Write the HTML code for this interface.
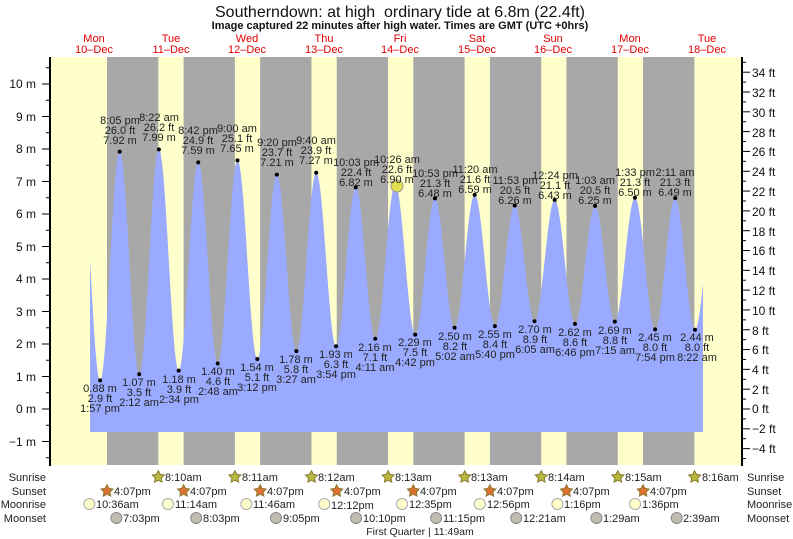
<!DOCTYPE html>
<html><head><meta charset="utf-8"><style>
body{margin:0;background:#fff;}
svg{display:block;font-family:"Liberation Sans",sans-serif;}
.t{font-size:11px;fill:#222;text-anchor:middle}
.ax{font-size:12px;fill:#111}
.r{font-size:11px;fill:#222}
</style></head><body>
<svg id="s" width="793" height="539" viewBox="0 0 793 539">
<rect x="50" y="57" width="692" height="408" fill="#ffffcc"/>
<g id="bands"></g>
<path id="water" fill="#9aabff"/>
<g id="ticks" stroke="#000" stroke-width="1"></g>
<line x1="50" y1="57" x2="50" y2="466" stroke="#000" stroke-width="2"/>
<line x1="742" y1="57" x2="742" y2="466" stroke="#000" stroke-width="2"/>
<text x="400" y="17" text-anchor="middle" font-size="16" fill="#111">Southerndown: at high&#160; ordinary tide at 6.8m (22.4ft)</text>
<text x="400" y="29" text-anchor="middle" font-size="11" font-weight="bold" fill="#111">Image captured 22 minutes after high water. Times are GMT (UTC +0hrs)</text>
<g font-size="11" fill="#e00000" text-anchor="middle">
<text x="94" y="42">Mon</text><text x="94" y="53">10‒Dec</text>
<text x="171" y="42">Tue</text><text x="171" y="53">11‒Dec</text>
<text x="247" y="42">Wed</text><text x="247" y="53">12‒Dec</text>
<text x="324" y="42">Thu</text><text x="324" y="53">13‒Dec</text>
<text x="400" y="42">Fri</text><text x="400" y="53">14‒Dec</text>
<text x="477" y="42">Sat</text><text x="477" y="53">15‒Dec</text>
<text x="553" y="42">Sun</text><text x="553" y="53">16‒Dec</text>
<text x="630" y="42">Mon</text><text x="630" y="53">17‒Dec</text>
<text x="707" y="42">Tue</text><text x="707" y="53">18‒Dec</text>
</g>
<g class="ax" text-anchor="end">
<text x="36" y="88">10 m</text><text x="36" y="121">9 m</text><text x="36" y="153">8 m</text><text x="36" y="186">7 m</text><text x="36" y="218">6 m</text><text x="36" y="251">5 m</text><text x="36" y="283">4 m</text><text x="36" y="316">3 m</text><text x="36" y="348">2 m</text><text x="36" y="381">1 m</text><text x="36" y="413">0 m</text><text x="36" y="446">−1 m</text>
</g>
<g class="ax">
<text x="752" y="77">34 ft</text><text x="752" y="97">32 ft</text><text x="752" y="117">30 ft</text><text x="752" y="137">28 ft</text><text x="752" y="156">26 ft</text><text x="752" y="176">24 ft</text><text x="752" y="196">22 ft</text><text x="752" y="216">20 ft</text><text x="752" y="236">18 ft</text><text x="752" y="255">16 ft</text><text x="752" y="275">14 ft</text><text x="752" y="295">12 ft</text><text x="752" y="315">10 ft</text><text x="752" y="335">8 ft</text><text x="752" y="354">6 ft</text><text x="752" y="374">4 ft</text><text x="752" y="394">2 ft</text><text x="752" y="413">0 ft</text><text x="752" y="433">−2 ft</text><text x="752" y="453">−4 ft</text>
</g>
<g id="dots" fill="#000"></g>
<circle cx="397" cy="186" r="6" fill="#e0e050" stroke="#999" stroke-width="1"/>
<g class="t">
<text x="120" y="124">8:05 pm</text><text x="120" y="134">26.0 ft</text><text x="120" y="144">7.92 m</text>
<text x="159" y="121">8:22 am</text><text x="159" y="131">26.2 ft</text><text x="159" y="141">7.99 m</text>
<text x="198" y="134">8:42 pm</text><text x="198" y="144">24.9 ft</text><text x="198" y="154">7.59 m</text>
<text x="237" y="132">9:00 am</text><text x="237" y="142">25.1 ft</text><text x="237" y="152">7.65 m</text>
<text x="277" y="146">9:20 pm</text><text x="277" y="156">23.7 ft</text><text x="277" y="166">7.21 m</text>
<text x="316" y="144">9:40 am</text><text x="316" y="154">23.9 ft</text><text x="316" y="164">7.27 m</text>
<text x="356" y="166">10:03 pm</text><text x="356" y="176">22.4 ft</text><text x="356" y="186">6.82 m</text>
<text x="397" y="163">10:26 am</text><text x="397" y="173">22.6 ft</text><text x="397" y="183">6.90 m</text>
<text x="435" y="177">10:53 pm</text><text x="435" y="187">21.3 ft</text><text x="435" y="197">6.48 m</text>
<text x="475" y="173">11:20 am</text><text x="475" y="183">21.6 ft</text><text x="475" y="193">6.59 m</text>
<text x="515" y="184">11:53 pm</text><text x="515" y="194">20.5 ft</text><text x="515" y="204">6.26 m</text>
<text x="555" y="179">12:24 pm</text><text x="555" y="189">21.1 ft</text><text x="555" y="199">6.43 m</text>
<text x="595" y="184">1:03 am</text><text x="595" y="194">20.5 ft</text><text x="595" y="204">6.25 m</text>
<text x="635" y="176">1:33 pm</text><text x="635" y="186">21.3 ft</text><text x="635" y="196">6.50 m</text>
<text x="675" y="176">2:11 am</text><text x="675" y="186">21.3 ft</text><text x="675" y="196">6.49 m</text>
<text x="100" y="392">0.88 m</text><text x="100" y="402">2.9 ft</text><text x="100" y="412">1:57 pm</text>
<text x="139" y="386">1.07 m</text><text x="139" y="396">3.5 ft</text><text x="139" y="406">2:12 am</text>
<text x="179" y="383">1.18 m</text><text x="179" y="393">3.9 ft</text><text x="179" y="403">2:34 pm</text>
<text x="218" y="375">1.40 m</text><text x="218" y="385">4.6 ft</text><text x="218" y="395">2:48 am</text>
<text x="257" y="371">1.54 m</text><text x="257" y="381">5.1 ft</text><text x="257" y="391">3:12 pm</text>
<text x="296" y="363">1.78 m</text><text x="296" y="373">5.8 ft</text><text x="296" y="383">3:27 am</text>
<text x="336" y="358">1.93 m</text><text x="336" y="368">6.3 ft</text><text x="336" y="378">3:54 pm</text>
<text x="375" y="351">2.16 m</text><text x="375" y="361">7.1 ft</text><text x="375" y="371">4:11 am</text>
<text x="415" y="346">2.29 m</text><text x="415" y="356">7.5 ft</text><text x="415" y="366">4:42 pm</text>
<text x="455" y="340">2.50 m</text><text x="455" y="350">8.2 ft</text><text x="455" y="360">5:02 am</text>
<text x="495" y="338">2.55 m</text><text x="495" y="348">8.4 ft</text><text x="495" y="358">5:40 pm</text>
<text x="535" y="333">2.70 m</text><text x="535" y="343">8.9 ft</text><text x="535" y="353">6:05 am</text>
<text x="575" y="336">2.62 m</text><text x="575" y="346">8.6 ft</text><text x="575" y="356">6:46 pm</text>
<text x="615" y="334">2.69 m</text><text x="615" y="344">8.8 ft</text><text x="615" y="354">7:15 am</text>
<text x="655" y="341">2.45 m</text><text x="655" y="351">8.0 ft</text><text x="655" y="361">7:54 pm</text>
<text x="697" y="341">2.44 m</text><text x="697" y="351">8.0 ft</text><text x="697" y="361">8:22 am</text>
</g>
<g class="r" text-anchor="end">
<text x="46" y="481">Sunrise</text><text x="46" y="495">Sunset</text><text x="46" y="508">Moonrise</text><text x="46" y="522">Moonset</text>
</g>
<g class="r">
<text x="747" y="481">Sunrise</text><text x="747" y="495">Sunset</text><text x="747" y="508">Moonrise</text><text x="747" y="522">Moonset</text>
</g>
<g id="icons"></g>
<g class="r">
<text x="165" y="481">8:10am</text><text x="242" y="481">8:11am</text><text x="318" y="481">8:12am</text><text x="395" y="481">8:13am</text><text x="471" y="481">8:13am</text><text x="548" y="481">8:14am</text><text x="625" y="481">8:15am</text><text x="702" y="481">8:16am</text>
<text x="114" y="495">4:07pm</text><text x="190" y="495">4:07pm</text><text x="267" y="495">4:07pm</text><text x="344" y="495">4:07pm</text><text x="420" y="495">4:07pm</text><text x="497" y="495">4:07pm</text><text x="573" y="495">4:07pm</text><text x="650" y="495">4:07pm</text>
<text x="96" y="508">10:36am</text><text x="175" y="508">11:14am</text><text x="253" y="508">11:46am</text><text x="331" y="509">12:12pm</text><text x="409" y="508">12:35pm</text><text x="487" y="508">12:56pm</text><text x="564" y="508">1:16pm</text><text x="642" y="508">1:36pm</text>
<text x="123" y="522">7:03pm</text><text x="203" y="522">8:03pm</text><text x="283" y="522">9:05pm</text><text x="363" y="522">10:10pm</text><text x="443" y="522">11:15pm</text><text x="523" y="522">12:21am</text><text x="603" y="522">1:29am</text><text x="683" y="522">2:39am</text>
</g>
<text x="420" y="535" text-anchor="middle" font-size="10.5" fill="#222">First Quarter | 11:49am</text>
</svg>
<script>
var NS="http://www.w3.org/2000/svg";
function el(p,n,a){var e=document.createElementNS(NS,n);for(var k in a)e.setAttribute(k,a[k]);document.getElementById(p).appendChild(e);return e;}
function X(t){return 55.6+t*3.191;}
function Y(h){return 409-h*32.5;}
for(var d=0;d<8;d++){var a=107+76.58*d,b=158.3+76.58*d;el("bands","rect",{x:a,y:57,width:b-a,height:408,fill:"#a8a8a8"});}
var ex=[[7.85,7.9],[13.95,.88],[20.08,7.92],[26.2,1.07],[32.37,7.99],[38.57,1.18],[44.7,7.59],[50.8,1.40],[57,7.65],[63.2,1.54],[69.33,7.21],[75.45,1.78],[81.67,7.27],[87.9,1.93],[94.05,6.82],[100.18,2.16],[106.43,6.90],[112.7,2.29],[118.88,6.48],[125.03,2.50],[131.33,6.59],[137.67,2.55],[143.88,6.26],[150.08,2.70],[156.4,6.43],[162.77,2.62],[169.05,6.25],[175.25,2.69],[181.55,6.50],[187.9,2.45],[194.18,6.49],[200.37,2.44],[206.6,6.5]];
var d="M90,432";
for(var x=90;x<=703;x+=0.5){var t=(x-55.6)/3.191,h=0;for(var i=0;i<ex.length-1;i++){if(t>=ex[i][0]&&t<=ex[i+1][0]){var f=(t-ex[i][0])/(ex[i+1][0]-ex[i][0]);h=ex[i][1]+(ex[i+1][1]-ex[i][1])*(1-Math.cos(Math.PI*f))/2;break;}}d+=" L"+x+","+Y(h).toFixed(1);}
d+=" L703,432 Z";document.getElementById("water").setAttribute("d",d);
for(var i=1;i<ex.length-1;i++)el("dots","circle",{cx:X(ex[i][0]),cy:Y(ex[i][1]),r:2});
for(var m=-1.5;m<=10.5;m+=0.5){var y=Y(m);el("ticks","line",{x1:m%1==0?42:46,x2:50,y1:y,y2:y});}
for(var f=-5;f<=35;f++){var y=409-f*9.906;if(y<57||y>465)continue;el("ticks","line",{x1:742,x2:f%2==0?750:746,y1:y,y2:y});}
function star(cx,cy,fill){var p="";for(var k=0;k<10;k++){var r=k%2?3.2:6.3,a=-Math.PI/2+k*Math.PI/5;p+=(cx+r*Math.cos(a)).toFixed(1)+","+(cy+r*Math.sin(a)).toFixed(1)+" ";}el("icons","polygon",{points:p,fill:fill,stroke:"#8a7a30","stroke-width":1});}
var sr=[158.3,234.9,311.5,388.1,464.7,541.3,617.8,694.6];sr.forEach(function(x){star(x,477,"#b8b840");});
for(var k=0;k<8;k++)star(107+76.58*k,491,"#e07030");
[89.4,168,246.3,324.3,402,479.8,557.4,635.1].forEach(function(x){el("icons","circle",{cx:x,cy:504,r:5.5,fill:"#ffffcc",stroke:"#aaa"});});
[116.4,196.2,276,356.1,436.1,516.2,596.4,676.7].forEach(function(x){el("icons","circle",{cx:x,cy:518,r:5.5,fill:"#c0bcb0",stroke:"#888"});});
</script>
</body></html>
